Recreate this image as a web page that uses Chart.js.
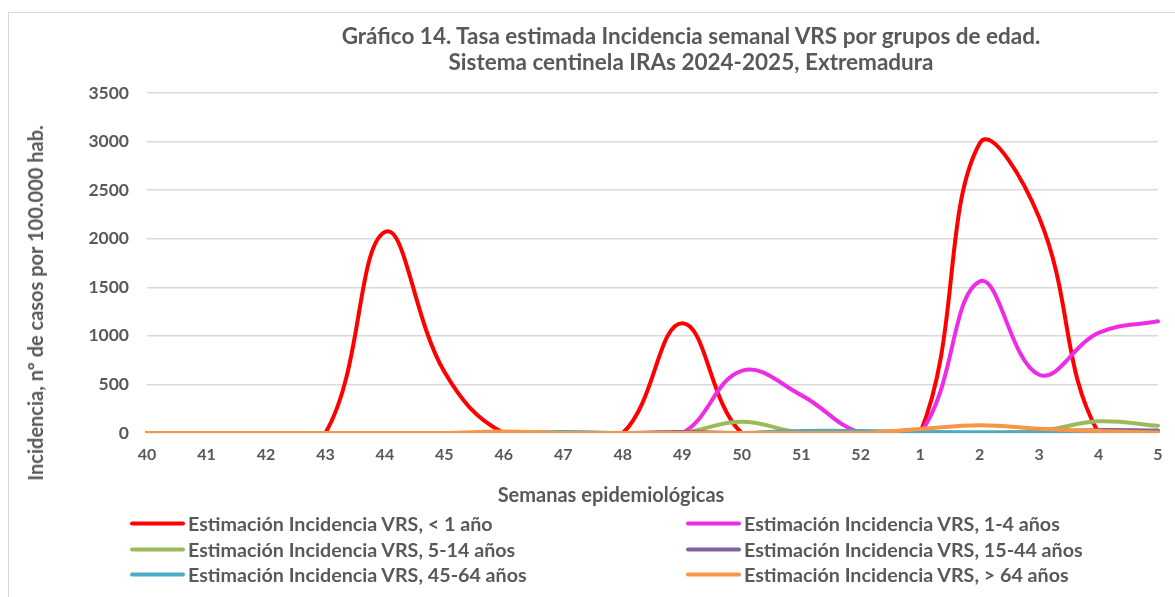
<!DOCTYPE html>
<html><head><meta charset="utf-8">
<script src="https://cdn.jsdelivr.net/npm/chart.js@4.4.1/dist/chart.umd.min.js"></script>
<style>
html,body{margin:0;padding:0;background:#fff;}
#wrap{position:relative;width:1175px;height:597px;overflow:hidden;font-family:Lato,'Open Sans',sans-serif;color:#595959;}
#frame{position:absolute;left:8px;top:12px;width:1200px;height:700px;border-left:1px solid #d9d9d9;border-top:1px solid #d9d9d9;}
#c{position:absolute;left:0;top:0;}
#title{position:absolute;left:691px;top:23px;transform:translateX(-50%);text-align:center;font-weight:bold;font-size:22.5px;line-height:26px;white-space:nowrap;}
#ytitle{position:absolute;left:35px;top:303px;transform:translate(-50%,-50%) rotate(-90deg);font-weight:bold;font-size:20px;white-space:nowrap;}
#xtitle{position:absolute;left:611px;top:494px;transform:translate(-50%,-50%);font-weight:bold;font-size:20px;white-space:nowrap;}
.li{position:absolute;display:flex;align-items:center;font-weight:bold;font-size:19.7px;white-space:nowrap;transform:translateY(-50%);}
.li .sw{width:55px;height:4px;margin-right:3px;border-radius:2px;}
</style></head>
<body>
<div id="wrap">
<div id="frame"></div>
<canvas id="c" width="1175" height="597"></canvas>
<div id="title">Gráfico 14. Tasa estimada Incidencia semanal VRS por grupos de edad.<br>Sistema centinela IRAs 2024-2025, Extremadura</div>
<div id="ytitle">Incidencia, nº de casos por 100.000 hab.</div>
<div id="xtitle">Semanas epidemiológicas</div>
<div id="legend"></div>
</div>
<script>
const weeks = ['40','41','42','43','44','45','46','47','48','49','50','51','52','1','2','3','4','5'];
const seriesNames = ['Estimación Incidencia VRS, < 1 año','Estimación Incidencia VRS, 1-4 años','Estimación Incidencia VRS, 5-14 años','Estimación Incidencia VRS, 15-44 años','Estimación Incidencia VRS, 45-64 años','Estimación Incidencia VRS, > 64 años'];
const menor1 = [0,0,0,0,2070,630,0,0,0,1130,0,0,0,0,2980,2220,0,0];
const de1a4 = [0,0,0,0,0,0,0,0,0,0,640,390,0,0,1560,600,1030,1150];
const de5a14 = [0,0,0,0,0,0,0,0,0,5,115,5,5,5,5,20,120,75];
const de15a44 = [0,0,0,0,0,0,0,0,0,10,0,5,5,0,0,5,30,25];
const de45a64 = [0,0,0,0,0,0,0,10,0,0,0,20,20,10,5,5,10,5];
const mayor64 = [0,0,0,0,0,0,15,0,0,0,0,0,0,40,80,45,20,5];
const yTicks = {min:0,max:3500,step:500};
const colors = ['#FF0000','#EE2CE6','#9BBB59','#8064A2','#4BACC6','#F79646'];
const values = [menor1,de1a4,de5a14,de15a44,de45a64,mayor64];

const FONT = 'Lato';
const datasets = values.map((v,i)=>({label:seriesNames[i],data:v,borderColor:colors[i],backgroundColor:colors[i],order:5-i,fill:false}));

const chart = new Chart(document.getElementById('c'),{
  type:'line',
  data:{labels:weeks,datasets},
  options:{
    responsive:false,animation:false,
    layout:{padding:{top:93,left:0,right:17,bottom:0}},
    plugins:{legend:{display:false},title:{display:false},tooltip:{enabled:false}},
    elements:{point:{radius:0},line:{borderWidth:4,tension:0.4,borderCapStyle:'round',borderJoinStyle:'round'}},
    scales:{
      x:{grid:{display:false,drawTicks:false},border:{display:false},
         ticks:{color:'#595959',font:{family:FONT,size:16,weight:'bold'},padding:12,maxRotation:0,autoSkip:false},
         afterFit:s=>{s.height=164;}},
      y:{min:yTicks.min,max:yTicks.max,
         ticks:{stepSize:yTicks.step,color:'#595959',font:{family:FONT,size:17.5,weight:'bold'},padding:18,callback:v=>String(v)},
         grid:{color:'#d9d9d9',lineWidth:1.5,drawTicks:false},border:{display:false},
         afterFit:s=>{s.width=147;}}
    }
  }
});

// HTML legend (two columns) built from chart datasets
const leg = document.getElementById('legend');
const colX=[130,686], rowY=[523,549,574];
chart.data.datasets.forEach((ds,i)=>{
  const d=document.createElement('div');d.className='li';
  d.style.left=colX[i%2]+'px';d.style.top=rowY[Math.floor(i/2)]+'px';
  const sw=document.createElement('span');sw.className='sw';sw.style.background=ds.borderColor;
  const t=document.createElement('span');t.textContent=ds.label;
  d.appendChild(sw);d.appendChild(t);leg.appendChild(d);
});
</script>
</body></html>
